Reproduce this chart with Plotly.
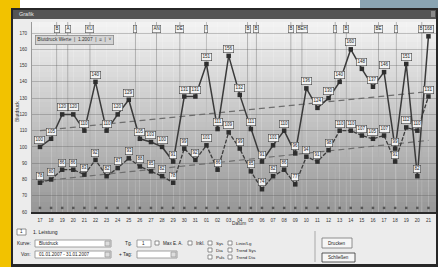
import plotly.graph_objects as go

# ---------------- data ----------------
dates = ["17", "18", "19", "20", "21", "22", "23", "24", "25", "26", "27", "28",
         "29", "30", "31", "01", "02", "03", "04", "05", "06", "07", "08", "09",
         "10", "11", "12", "13", "14", "15", "16", "17", "18", "19", "20", "21"]
systolic = [100, 105, 120, 120, 110, 140, 110, 120, 129, 105, 103, 100,
            91, 131, 131, 151, 111, 156, 132, 111, 91, 101, 110, 96,
            136, 124, 130, 140, 160, 148, 137, 146, 99, 151, 82, 168]
diastolic = [78, 80, 86, 86, 83, 92, 82, 87, 93, 88, 85, 82,
             78, 99, 92, 101, 86, 109, 99, 85, 74, 82, 86, 77,
             94, 91, 98, 110, 110, 107, 105, 107, 91, 112, 110, 131]
flags = [62.5, 62.5, 62.5, 62.5, 62.5, 62.5, 62.5, 62.5, 62.5, 62.5, 62.5, 62.5,
         62.5, 62.5, 62.5, 62.5, 62.5, 62.5, 62.5, 62.5, 62.5, 62.5, 62.5, 62.5,
         62.5, 62.5, 62.5, 62.5, 62.5, 62.5, 62.5, 62.5, 62.5, 62.5, 62.5, 62.5]
trend_x = [0, 35]
trend_sys = [110, 134]
trend_dia = [79, 104]
y_ticks = [60, 70, 80, 90, 100, 110, 120, 130, 140, 150, 160, 170]
event_pos = [1.5, 2.5, 4.5, 8.6, 10.5, 12.6, 15.0, 18.7, 19.5, 22.6, 23.6, 26.6, 27.6, 30.5, 32.1, 34.4]
event_txt = ["B", "A", "KU", "I", "AN", "DE", "I", "B", "B", "B", "BEH", "I", "B", "BE", "I", "B I"]

x = list(range(len(dates)))

# ---------------- geometry helpers ----------------
L, R, T, B = 32, 436, 22, 212
W, H = R - L, B - T


def px(v):
    return (v - L) / W


def py(v):
    return (B - v) / H


FONT = "Liberation Sans"
shapes = []
annos = []


def rect(x0, y0, x1, y1, fill, line=None, lw=0.8, layer="below"):
    shapes.append(dict(type="rect", xref="paper", yref="paper",
                       x0=px(x0), x1=px(x1), y0=py(y1), y1=py(y0),
                       fillcolor=fill, line=dict(color=line or fill, width=lw if line else 0),
                       layer=layer))


def text(xp, yp, s, size=5, color="#222", anchor="left", angle=0):
    annos.append(dict(xref="paper", yref="paper", x=px(xp), y=py(yp), text=s,
                      showarrow=False, xanchor=anchor, yanchor="middle", textangle=angle,
                      font=dict(family=FONT, size=size, color=color)))


# outer surroundings
rect(0, 0, 438, 267, "#f2c200")
rect(20, 0, 360, 8, "#ffffff")
rect(360, 0, 438, 9, "#8aa5b3")
rect(11, 8, 438, 267, "#272727")
rect(13, 10, 436, 19, "#555555")
rect(431, 11, 435, 17, "#8a8a8a")
text(17, 14.5, "Grafik", 5.5, "#e6e6e6")
rect(13, 19, 436, 264, "#ececec")

# plot background gradient
n = 38
c0, c1 = (242, 242, 242), (152, 152, 152)
for i in range(n):
    t = i / (n - 1)
    c = tuple(int(round(c0[k] + (c1[k] - c0[k]) * t)) for k in range(3))
    y0 = T + H * i / n
    y1 = T + H * (i + 1) / n + 0.6
    rect(L, y0, R, min(y1, B), "rgb(%d,%d,%d)" % c)

# event lines
for p in event_pos:
    shapes.append(dict(type="line", xref="x", yref="paper", x0=p, x1=p, y0=0, y1=1,
                       line=dict(color="#b0b0b0", width=1), layer="below"))
for p, s in zip(event_pos, event_txt):
    annos.append(dict(xref="x", yref="paper", x=p, y=py(25.5), text=s, showarrow=False,
                      font=dict(family=FONT, size=4.5, color="#222"),
                      bgcolor="#f6f6f6", bordercolor="#555", borderwidth=0.6, borderpad=0.8))

# legend-like box
annos.append(dict(xref="paper", yref="paper", x=px(35), y=py(35), xanchor="left",
                  text="Blutdruck Werte  |  1.2007  |  \u2261  |  \u02c5", showarrow=False,
                  font=dict(family=FONT, size=4.8, color="#333"),
                  bgcolor="#d4d4d4", bordercolor="#8a8a8a", borderwidth=0.8, borderpad=1.5))

# point labels
for xi, v in zip(x, systolic):
    annos.append(dict(x=xi, y=v, yshift=7, text=str(v), showarrow=False,
                      font=dict(family=FONT, size=4.5, color="#222"),
                      bgcolor="#f2f2f2", bordercolor="#444", borderwidth=0.6, borderpad=0.8))
for xi, v in zip(x, diastolic):
    annos.append(dict(x=xi, y=v, yshift=7, text=str(v), showarrow=False,
                      font=dict(family=FONT, size=4.5, color="#222"),
                      bgcolor="#f2f2f2", bordercolor="#444", borderwidth=0.6, borderpad=0.8))

# axis titles
text(17, 112, "Blutdruck", 5, "#333", "center", -90)
text(239, 223, "Datum", 4.8, "#333", "center")

# ---------------- bottom control panel ----------------
rect(17, 229, 26, 235, "#ffffff", "#777")
text(21.5, 232, "1", 4.5, "#222", "center")
text(31, 232, "1. Leistung", 5, "#222")

text(33, 243.5, "Kurve:", 4.8, "#222", "right")
rect(35, 240, 111, 247, "#ffffff", "#8a8a8a")
text(37, 243.5, "Blutdruck", 4.6, "#222")
rect(105, 241, 110, 246, "#dddddd", "#999")
text(33, 254.5, "Von:", 4.8, "#222", "right")
rect(35, 251, 111, 258, "#ffffff", "#8a8a8a")
text(37, 254.5, "01.01.2007 - 31.01.2007", 4.6, "#222")
rect(105, 252, 110, 257, "#dddddd", "#999")

text(134, 243.5, "Tg.", 4.8, "#222", "right")
rect(137, 240, 151, 247, "#ffffff", "#8a8a8a")
text(140, 243.5, "1", 4.6, "#222")
rect(155, 241, 159, 245, "#ffffff", "#777")
text(161, 243.5, "Max E. A.", 4.6, "#222")
rect(188, 241, 192, 245, "#ffffff", "#777")
text(194, 243.5, "Inkl.", 4.6, "#222")
text(134, 254.5, "+ Tag:", 4.8, "#222", "right")
rect(137, 251, 177, 258, "#ffffff", "#8a8a8a")
rect(171, 252, 176, 257, "#dddddd", "#999")

for i, (a, b) in enumerate([("Sys", "Linie/Lg"), ("Dia", "Trend Sys"), ("Puls", "Trend Dia")]):
    yy = 243 + i * 7
    rect(208, yy - 2, 212, yy + 2, "#ffffff", "#777")
    text(213.5, yy, a, 4.4, "#222")
    rect(228, yy - 2, 232, yy + 2, "#ffffff", "#777")
    text(233.5, yy, b, 4.4, "#222")

shapes.append(dict(type="line", xref="paper", yref="paper", x0=px(315), x1=px(315),
                   y0=py(231), y1=py(262), line=dict(color="#a8a8a8", width=1), layer="below"))
rect(322, 238, 352, 248, "#f6f6f6", "#777")
text(337, 243, "Drucken", 4.6, "#222", "center")
rect(322, 253, 355, 262, "#f6f6f6", "#333")
text(338.5, 257.5, "Schlie\u00dfen", 4.6, "#222", "center")

# ---------------- traces ----------------
fig = go.Figure()
fig.add_trace(go.Scatter(x=trend_x, y=trend_sys, mode="lines",
                         line=dict(color="#6e6e6e", width=1.2, dash="6px,4px"), hoverinfo="skip"))
fig.add_trace(go.Scatter(x=trend_x, y=trend_dia, mode="lines",
                         line=dict(color="#6e6e6e", width=1.2, dash="6px,4px"), hoverinfo="skip"))
fig.add_trace(go.Scatter(x=x, y=flags, mode="markers",
                         marker=dict(symbol="square", size=2.5, color="#555")))
fig.add_trace(go.Scatter(x=x, y=diastolic, mode="lines+markers",
                         line=dict(color="#3c3c3c", width=1.3, dash="4px,1.5px"),
                         marker=dict(symbol="square", size=4.5, color="#2e2e2e")))
fig.add_trace(go.Scatter(x=x, y=systolic, mode="lines+markers",
                         line=dict(color="#3a3a3a", width=1.5),
                         marker=dict(symbol="square", size=4.5, color="#2e2e2e")))

fig.update_layout(
    width=438, height=267,
    margin=dict(l=L, r=438 - R, t=T, b=267 - B),
    paper_bgcolor="#ececec", plot_bgcolor="rgba(0,0,0,0)",
    showlegend=False,
    shapes=shapes, annotations=annos,
    font=dict(family=FONT, size=5, color="#333"),
    xaxis=dict(range=[-0.72, 35.68], tickmode="array", tickvals=x, ticktext=dates,
               showgrid=True, gridcolor="rgba(255,255,255,0.18)", gridwidth=1,
               zeroline=False, showline=True, linecolor="#2a2a2a", linewidth=2,
               ticks="", tickfont=dict(size=4.6, color="#333"), ticklabelstandoff=2),
    yaxis=dict(range=[60, 176.8], tickmode="array", tickvals=y_ticks,
               showgrid=True, gridcolor="rgba(80,80,80,0.3)", gridwidth=1,
               zeroline=False, showline=True, linecolor="#9a9a9a", linewidth=1,
               ticks="", tickfont=dict(size=4.6, color="#333"), ticklabelstandoff=3),
)

fig.write_html("out.html", config={"displayModeBar": False},
               post_script="document.body.style.margin='0';document.body.style.overflow='hidden';")
